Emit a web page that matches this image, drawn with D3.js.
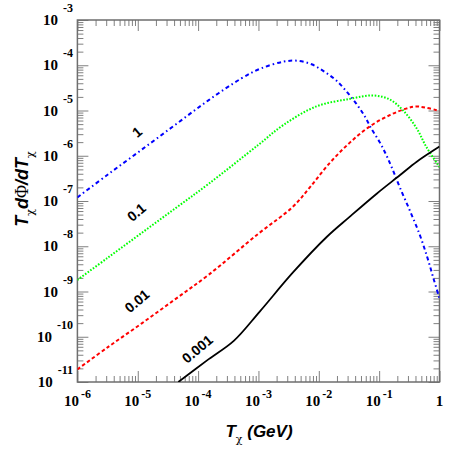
<!DOCTYPE html>
<html>
<head>
<meta charset="utf-8">
<script src="https://cdn.jsdelivr.net/npm/d3@7"></script>
<style>
  body { margin: 0; background: #fff; }
</style>
</head>
<body>
<div id="chart"></div>
<script>
// T_chi (GeV) vs T_chi dPhi/dT_chi
const curveA = [
  [1e-6, 1.2e-7], [3.2e-6, 3.85e-7], [1.15e-5, 1.35e-6], [4.2e-5, 4.85e-6],
  [1.5e-4, 1.7e-5], [5.2e-4, 5.1e-5], [1.1e-3, 8.5e-5], [2.6e-3, 1.2e-4],
  [4.3e-3, 1.26e-4], [7.6e-3, 1.05e-4], [1.26e-2, 7.1e-5], [1.95e-2, 4.6e-5],
  [2.9e-2, 2.6e-5], [4.2e-2, 1.4e-5], [5.8e-2, 7.4e-6], [7.4e-2, 4.0e-6],
  [0.102, 2.0e-6], [0.132, 1.02e-6], [0.17, 4.7e-7], [0.22, 2.0e-7],
  [0.32, 6.3e-8], [0.47, 1.8e-8], [0.63, 5.6e-9], [0.79, 2.0e-9], [1.0, 7e-10]
];
const curveB = [
  [1e-6, 1.8e-9], [3.2e-6, 5.6e-9], [1.15e-5, 1.95e-8], [4.2e-5, 6.9e-8],
  [1.5e-4, 2.4e-7], [1e-3, 1.75e-6], [2.6e-3, 4.8e-6], [9.1e-3, 1.23e-5],
  [3.2e-2, 1.8e-5], [7.9e-2, 2.15e-5], [0.15, 1.75e-5], [0.25, 1.0e-5],
  [0.42, 4.0e-6], [0.6, 1.6e-6], [1.0, 5.6e-7]
];
const curveC = [
  [1e-6, 1.9e-11], [3.2e-6, 5.9e-11], [1.15e-5, 1.95e-10], [4.2e-5, 6.8e-10],
  [1.5e-4, 2.35e-9], [1e-3, 1.9e-8], [3.7e-3, 7.4e-8], [7.1e-3, 2.0e-7],
  [1.5e-2, 6.8e-7], [3.2e-2, 1.9e-6], [6.9e-2, 4.4e-6], [0.15, 7.9e-6],
  [0.28, 1.1e-5], [0.42, 1.23e-5], [1.0, 9.8e-6]
];
const curveD = [
  [4.7e-5, 1.0e-11], [1.5e-4, 3.2e-11], [3.9e-4, 8.1e-11], [1.05e-3, 3.6e-10],
  [3.7e-3, 2.6e-9], [1.35e-2, 1.6e-8], [3.2e-2, 4.4e-8], [9.1e-2, 1.45e-7],
  [0.22, 3.7e-7], [0.42, 7.4e-7], [1.0, 1.6e-6]
];
const curveNames = ["1", "0.1", "0.01", "0.001"];
const namePositions = [[1e-5, 3.2e-6], [9.8e-6, 5.4e-8], [1e-5, 5.9e-10], [1e-4, 5.1e-11]];

const xMajor = [1e-6, 1e-5, 1e-4, 1e-3, 1e-2, 1e-1, 1];
const xExponents = ["-6", "-5", "-4", "-3", "-2", "-1", ""];
const yMajor = [1e-3, 1e-4, 1e-5, 1e-6, 1e-7, 1e-8, 1e-9, 1e-10, 1e-11];
const yExponents = ["-3", "-4", "-5", "-6", "-7", "-8", "-9", "-10", "-11"];

const series = [
  { name: curveNames[0], data: curveA, pos: namePositions[0], color: "#0000ff", dash: "4,3,1.5,3" },
  { name: curveNames[1], data: curveB, pos: namePositions[1], color: "#00ff00", dash: "1.6,1.6" },
  { name: curveNames[2], data: curveC, pos: namePositions[2], color: "#ff0000", dash: "3.5,2.5" },
  { name: curveNames[3], data: curveD, pos: namePositions[3], color: "#000000", dash: null }
];

const width = 463;
const height = 450;
const plotLeft = 77.4, plotRight = 439.5, plotTop = 20, plotBottom = 382;

const svg = d3
  .select("#chart")
  .append("svg")
  .attr("width", width)
  .attr("height", height);

const x = d3.scaleLog().domain([1e-6, 1]).range([plotLeft, plotRight]);
const y = d3.scaleLog().domain([1e-11, 1e-3]).range([plotBottom, plotTop]);

svg
  .append("clipPath")
  .attr("id", "plot-clip")
  .append("rect")
  .attr("x", plotLeft)
  .attr("y", plotTop)
  .attr("width", plotRight - plotLeft)
  .attr("height", plotBottom - plotTop);

// Ticks on all four sides, pointing inward
function drawTicks(axis, transform, values, size) {
  const g = svg
    .append("g")
    .attr("transform", transform)
    .call(axis.tickValues(values).tickSizeInner(-size).tickSizeOuter(0).tickFormat(""));
  g.select(".domain").remove();
  g.selectAll("line").attr("stroke", "#808080").attr("stroke-width", 1);
}

const xMinor = x.ticks().filter((v) => !xMajor.some((m) => Math.abs(v / m - 1) < 1e-6));
const yMinor = y.ticks().filter((v) => !yMajor.some((m) => Math.abs(v / m - 1) < 1e-6));

drawTicks(d3.axisBottom(x), `translate(0,${plotBottom})`, xMinor, 6);
drawTicks(d3.axisBottom(x), `translate(0,${plotBottom})`, xMajor, 11);
drawTicks(d3.axisTop(x), `translate(0,${plotTop})`, xMinor, 6);
drawTicks(d3.axisTop(x), `translate(0,${plotTop})`, xMajor, 11);
drawTicks(d3.axisLeft(y), `translate(${plotLeft},0)`, yMinor, 6);
drawTicks(d3.axisLeft(y), `translate(${plotLeft},0)`, yMajor, 11);
drawTicks(d3.axisRight(y), `translate(${plotRight},0)`, yMinor, 6);
drawTicks(d3.axisRight(y), `translate(${plotRight},0)`, yMajor, 11);

// Frame
svg
  .append("rect")
  .attr("x", plotLeft)
  .attr("y", plotTop)
  .attr("width", plotRight - plotLeft)
  .attr("height", plotBottom - plotTop)
  .attr("fill", "none")
  .attr("stroke", "#6e6e6e")
  .attr("stroke-width", 1.5);

// X tick labels
xMajor.forEach((v, i) => {
  const t = svg
    .append("text")
    .attr("x", x(v))
    .attr("y", 406)
    .attr("text-anchor", "middle")
    .attr("font-family", "Liberation Serif")
    .attr("font-weight", "bold")
    .attr("font-size", 15);
  if (xExponents[i] === "") {
    t.text("1");
  } else {
    t.append("tspan").text("10");
    t.append("tspan").attr("dx", 2).attr("dy", -8).attr("font-size", 12).text(xExponents[i]);
  }
});

// Y tick labels
yMajor.forEach((v, i) => {
  const t = svg
    .append("text")
    .attr("x", 73)
    .attr("y", y(v) + 5)
    .attr("text-anchor", "end")
    .attr("font-family", "Liberation Serif")
    .attr("font-weight", "bold")
    .attr("font-size", 15);
  t.append("tspan").text("10");
  t.append("tspan").attr("dx", 5).attr("dy", -13).attr("font-size", 12).text(yExponents[i]);
});

// X axis title
const xTitle = svg
  .append("text")
  .attr("x", 259)
  .attr("y", 437)
  .attr("text-anchor", "middle")
  .attr("font-family", "Liberation Sans")
  .attr("font-weight", "bold")
  .attr("font-style", "italic")
  .attr("font-size", 17);
xTitle.append("tspan").text("T");
xTitle.append("tspan").attr("dy", 6).attr("font-size", 11).attr("font-weight", "normal").attr("font-style", "normal").attr("font-family", "DejaVu Serif").text("χ");
xTitle.append("tspan").attr("dy", -6).text(" (GeV)");

// Y axis title
const yTitle = svg
  .append("text")
  .attr("transform", "translate(28,189) rotate(-90)")
  .attr("text-anchor", "middle")
  .attr("font-family", "Liberation Sans")
  .attr("font-weight", "bold")
  .attr("font-style", "italic")
  .attr("font-size", 18);
yTitle.append("tspan").text("T");
yTitle.append("tspan").attr("dy", 6).attr("font-size", 11).attr("font-weight", "normal").attr("font-style", "normal").attr("font-family", "DejaVu Serif").text("χ");
yTitle.append("tspan").attr("dy", -6).text("d");
yTitle.append("tspan").attr("font-family", "Liberation Serif").attr("font-style", "normal").attr("font-weight", "normal").text("Φ");
yTitle.append("tspan").text("/dT");
yTitle.append("tspan").attr("dy", 6).attr("font-size", 11).attr("font-weight", "normal").attr("font-style", "normal").attr("font-family", "DejaVu Serif").text("χ");

// Curves
const line = d3
  .line()
  .x((d) => x(d[0]))
  .y((d) => y(d[1]))
  .curve(d3.curveCatmullRom.alpha(0.5));

const plot = svg.append("g").attr("clip-path", "url(#plot-clip)");

series.forEach((s) => {
  plot
    .append("path")
    .datum(s.data)
    .attr("fill", "none")
    .attr("stroke", s.color)
    .attr("stroke-width", s.dash ? 2 : 1.8)
    .attr("stroke-dasharray", s.dash)
    .attr("d", line);

  svg
    .append("text")
    .attr("transform", `translate(${x(s.pos[0])},${y(s.pos[1])}) rotate(-40)`)
    .attr("text-anchor", "middle")
    .attr("dominant-baseline", "middle")
    .attr("font-family", "Liberation Sans")
    .attr("font-weight", "bold")
    .attr("font-size", 14)
    .text(s.name);
});
</script>
</body>
</html>
